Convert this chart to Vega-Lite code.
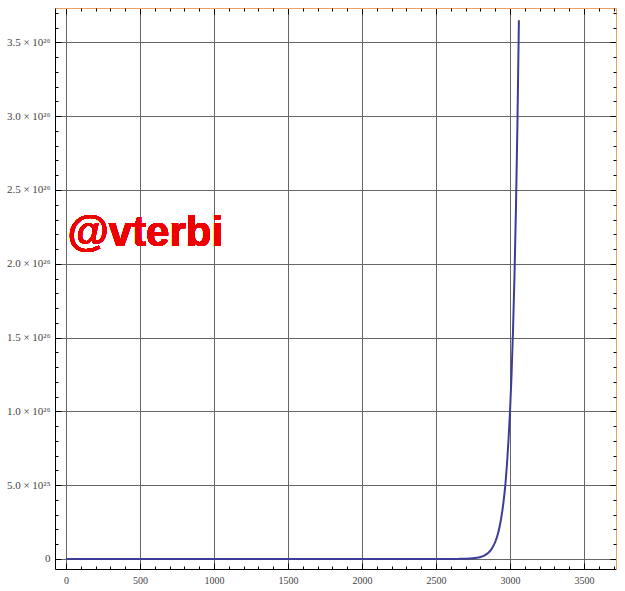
{
  "$schema": "https://vega.github.io/schema/vega-lite/v6.json",
  "width": 561,
  "height": 561,
  "autosize": {"type": "none"},
  "padding": {"left": 55, "top": 8, "right": 9, "bottom": 22},
  "background": "white",
  "config": {
    "view": {"stroke": null},
    "axis": {"labelFont": "Liberation Serif", "labelFontSize": 10, "labelColor": "#444", "title": null, "tickColor": "#000", "tickWidth": 1}
  },
  "data": {
    "values": [
      {"t": 0, "v": 0}, {"t": 500, "v": 0}, {"t": 1000, "v": 0}, {"t": 1500, "v": 0}, {"t": 2000, "v": 0},
      {"t": 2500, "v": 2.0e21}, {"t": 2600, "v": 1.8e22}, {"t": 2650, "v": 5.2e22}, {"t": 2700, "v": 1.5e23},
      {"t": 2750, "v": 4.5e23}, {"t": 2775, "v": 7.7e23}, {"t": 2800, "v": 1.33e24}, {"t": 2825, "v": 2.28e24},
      {"t": 2850, "v": 3.9e24}, {"t": 2875, "v": 6.7e24}, {"t": 2900, "v": 1.15e25}, {"t": 2915, "v": 1.59e25},
      {"t": 2930, "v": 2.2e25}, {"t": 2945, "v": 3.05e25}, {"t": 2960, "v": 4.2e25}, {"t": 2970, "v": 5.2e25},
      {"t": 2980, "v": 6.5e25}, {"t": 2990, "v": 8.1e25}, {"t": 3000, "v": 1.0e26}, {"t": 3010, "v": 1.24e26},
      {"t": 3020, "v": 1.54e26}, {"t": 3030, "v": 1.91e26}, {"t": 3040, "v": 2.37e26}, {"t": 3050, "v": 2.94e26},
      {"t": 3060, "v": 3.65e26}
    ]
  },
  "resolve": {"axis": {"x": "independent", "y": "independent"}},
  "layer": [
    {
      "mark": {"type": "line", "color": "#3d3d99", "strokeWidth": 2, "interpolate": "monotone", "clip": true},
      "encoding": {
        "x": {"field": "t", "type": "quantitative", "scale": {"domain": [-74, 3716], "nice": false, "zero": false},
          "axis": {"orient": "bottom", "values": [0, 500, 1000, 1500, 2000, 2500, 3000, 3500], "format": "d", "ticks": false, "grid": true, "gridColor": "#666", "gridWidth": 1, "gridOpacity": 1, "domainColor": "#000", "domainWidth": 1, "labelPadding": 6, "labelFlush": false}},
        "y": {"field": "v", "type": "quantitative", "scale": {"domain": [-6.8e24, 3.733e26], "nice": false, "zero": false},
          "axis": {"orient": "left", "values": [0, 5e25, 1e26, 1.5e26, 2e26, 2.5e26, 3e26, 3.5e26], "ticks": false, "grid": true, "gridColor": "#666", "gridWidth": 1, "gridOpacity": 1, "domainColor": "#000", "domainWidth": 1, "labelPadding": 5, "labelFlush": false, "labelFontSize": 11,
            "labelExpr": "datum.value == 0 ? '0' : datum.value < 9e25 ? '5.0 × 10²⁵' : format(datum.value / 1e26, '.1f') + ' × 10²⁶'"}}
      }
    },
    {
      "mark": {"type": "point", "opacity": 0},
      "encoding": {
        "x": {"field": "t", "type": "quantitative", "scale": {"domain": [-74, 3716], "nice": false, "zero": false},
          "axis": {"orient": "bottom", "values": [0, 500, 1000, 1500, 2000, 2500, 3000, 3500], "tickSize": -6, "labels": false, "domain": false, "grid": false}},
        "y": {"field": "v", "type": "quantitative", "scale": {"domain": [-6.8e24, 3.733e26], "nice": false, "zero": false},
          "axis": {"orient": "left", "values": [0, 5e25, 1e26, 1.5e26, 2e26, 2.5e26, 3e26, 3.5e26], "tickSize": -6, "labels": false, "domain": false, "grid": false}}
      }
    },
    {
      "mark": {"type": "point", "opacity": 0},
      "encoding": {
        "x": {"field": "t", "type": "quantitative", "scale": {"domain": [-74, 3716], "nice": false, "zero": false},
          "axis": {"orient": "bottom", "values": [100, 200, 300, 400, 600, 700, 800, 900, 1100, 1200, 1300, 1400, 1600, 1700, 1800, 1900, 2100, 2200, 2300, 2400, 2600, 2700, 2800, 2900, 3100, 3200, 3300, 3400, 3600, 3700], "tickSize": -3, "labels": false, "domain": false, "grid": false}},
        "y": {"field": "v", "type": "quantitative", "scale": {"domain": [-6.8e24, 3.733e26], "nice": false, "zero": false},
          "axis": {"orient": "left", "values": [1e25, 2e25, 3e25, 4e25, 6e25, 7e25, 8e25, 9e25, 1.1e26, 1.2e26, 1.3e26, 1.4e26, 1.6e26, 1.7e26, 1.8e26, 1.9e26, 2.1e26, 2.2e26, 2.3e26, 2.4e26, 2.6e26, 2.7e26, 2.8e26, 2.9e26, 3.1e26, 3.2e26, 3.3e26, 3.4e26, 3.6e26, 3.7e26], "tickSize": -3, "labels": false, "domain": false, "grid": false}}
      }
    },
    {
      "mark": {"type": "point", "opacity": 0},
      "encoding": {
        "x": {"field": "t", "type": "quantitative", "scale": {"domain": [-74, 3716], "nice": false, "zero": false},
          "axis": {"orient": "top", "values": [0, 500, 1000, 1500, 2000, 2500, 3000, 3500], "tickSize": -6, "labels": false, "domain": true, "domainColor": "#f0a060", "domainWidth": 1, "grid": false}},
        "y": {"field": "v", "type": "quantitative", "scale": {"domain": [-6.8e24, 3.733e26], "nice": false, "zero": false},
          "axis": {"orient": "right", "values": [0, 5e25, 1e26, 1.5e26, 2e26, 2.5e26, 3e26, 3.5e26], "tickSize": -6, "labels": false, "domain": true, "domainColor": "#f0a060", "domainWidth": 1, "grid": false}}
      }
    },
    {
      "mark": {"type": "point", "opacity": 0},
      "encoding": {
        "x": {"field": "t", "type": "quantitative", "scale": {"domain": [-74, 3716], "nice": false, "zero": false},
          "axis": {"orient": "top", "values": [100, 200, 300, 400, 600, 700, 800, 900, 1100, 1200, 1300, 1400, 1600, 1700, 1800, 1900, 2100, 2200, 2300, 2400, 2600, 2700, 2800, 2900, 3100, 3200, 3300, 3400, 3600, 3700], "tickSize": -3, "labels": false, "domain": false, "grid": false}},
        "y": {"field": "v", "type": "quantitative", "scale": {"domain": [-6.8e24, 3.733e26], "nice": false, "zero": false},
          "axis": {"orient": "right", "values": [1e25, 2e25, 3e25, 4e25, 6e25, 7e25, 8e25, 9e25, 1.1e26, 1.2e26, 1.3e26, 1.4e26, 1.6e26, 1.7e26, 1.8e26, 1.9e26, 2.1e26, 2.2e26, 2.3e26, 2.4e26, 2.6e26, 2.7e26, 2.8e26, 2.9e26, 3.1e26, 3.2e26, 3.3e26, 3.4e26, 3.6e26, 3.7e26], "tickSize": -3, "labels": false, "domain": false, "grid": false}}
      }
    },
    {
      "mark": {"type": "text", "text": "@vterbi", "color": "#ee0000", "font": "Liberation Sans", "fontWeight": "bold", "fontSize": 42, "align": "left", "baseline": "alphabetic"},
      "encoding": {
        "x": {"datum": 12, "type": "quantitative", "axis": null},
        "y": {"datum": 2.12e26, "type": "quantitative", "axis": null}
      }
    }
  ]
}
